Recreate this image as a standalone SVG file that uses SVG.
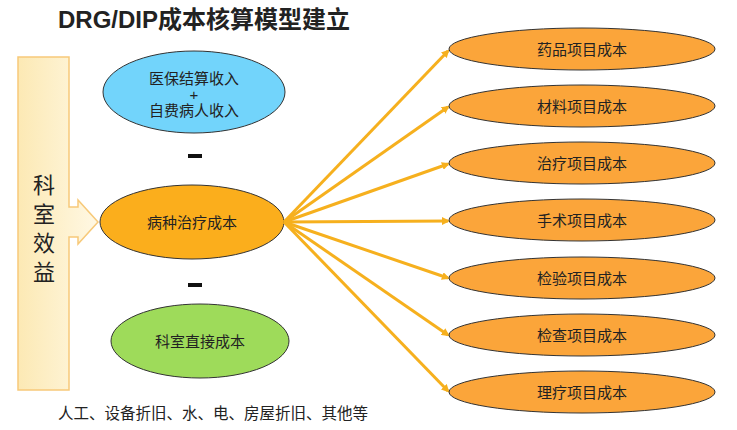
<svg xmlns="http://www.w3.org/2000/svg" width="737" height="430" viewBox="0 0 737 430">
<defs>
<style>
text{font-family:"Liberation Sans","Noto Sans CJK SC",sans-serif;fill:#222}
.r{fill:#FBA53A;stroke:#333;stroke-width:1}
.c{stroke:#F6B01E;stroke-width:3;fill:none;marker-end:url(#a)}
.t{font-size:15px;text-anchor:middle}
</style>
<marker id="a" markerWidth="8" markerHeight="8" refX="6" refY="4" orient="auto" markerUnits="userSpaceOnUse"><path d="M0,0 L8,4 L0,8 Z" fill="#F6B01E"/></marker>
<linearGradient id="g" x1="0" x2="1"><stop offset="0" stop-color="#FCE9B4"/><stop offset="1" stop-color="#FFF8E4"/></linearGradient>
</defs>
<rect width="737" height="430" fill="#fff"/>
<text x="58" y="28" font-size="24" font-weight="bold" fill="#111">DRG/DIP成本核算模型建立</text>
<g id="keshi">
<path d="M18,57 H69 V207 H78 V200 L98,222 L78,244 V237 H69 V390 H18 Z" fill="url(#g)" stroke="#F7C979" stroke-width="1.5"/>
<text x="44" y="193" font-size="22" text-anchor="middle">科</text>
<text x="44" y="222" font-size="22" text-anchor="middle">室</text>
<text x="44" y="251" font-size="22" text-anchor="middle">效</text>
<text x="44" y="280" font-size="22" text-anchor="middle">益</text>
</g>
<g id="income"><ellipse cx="194" cy="92" rx="91" ry="41" fill="#72D4FB" stroke="#333"/>
<text class="t" x="194" y="84">医保结算收入</text><text class="t" x="194" y="100" font-size="10">+</text><text class="t" x="194" y="116">自费病人收入</text></g>
<rect x="188" y="154" width="14" height="4" fill="#111"/>
<g id="bing"><ellipse cx="192" cy="222" rx="92" ry="37" fill="#FBAE1C" stroke="#333"/><text class="t" x="192" y="228">病种治疗成本</text></g>
<rect x="188" y="283" width="14" height="4" fill="#111"/>
<g id="direct"><ellipse cx="200" cy="341" rx="89" ry="37" fill="#9EDB5A" stroke="#333"/><text class="t" x="200" y="347">科室直接成本</text></g>
<text x="58" y="419" font-size="15.5">人工、设备折旧、水、电、房屋折旧、其他等</text>
<g id="connectors">
<line class="c" x1="284" y1="222" x2="448" y2="51"/>
<line class="c" x1="284" y1="222" x2="448" y2="107"/>
<line class="c" x1="284" y1="222" x2="448" y2="164"/>
<line class="c" x1="284" y1="222" x2="448" y2="221"/>
<line class="c" x1="284" y1="222" x2="448" y2="278"/>
<line class="c" x1="284" y1="222" x2="448" y2="335"/>
<line class="c" x1="284" y1="222" x2="448" y2="391"/>
</g>
<g id="n1"><ellipse class="r" cx="582" cy="49" rx="133" ry="21"/><text class="t" x="582" y="55">药品项目成本</text></g>
<g id="n2"><ellipse class="r" cx="582" cy="106" rx="133" ry="21"/><text class="t" x="582" y="112">材料项目成本</text></g>
<g id="n3"><ellipse class="r" cx="582" cy="163" rx="133" ry="21"/><text class="t" x="582" y="169">治疗项目成本</text></g>
<g id="n4"><ellipse class="r" cx="582" cy="220" rx="133" ry="21"/><text class="t" x="582" y="226">手术项目成本</text></g>
<g id="n5"><ellipse class="r" cx="582" cy="278" rx="133" ry="21"/><text class="t" x="582" y="284">检验项目成本</text></g>
<g id="n6"><ellipse class="r" cx="582" cy="335" rx="133" ry="21"/><text class="t" x="582" y="341">检查项目成本</text></g>
<g id="n7"><ellipse class="r" cx="582" cy="392" rx="133" ry="21"/><text class="t" x="582" y="398">理疗项目成本</text></g>
</svg>
